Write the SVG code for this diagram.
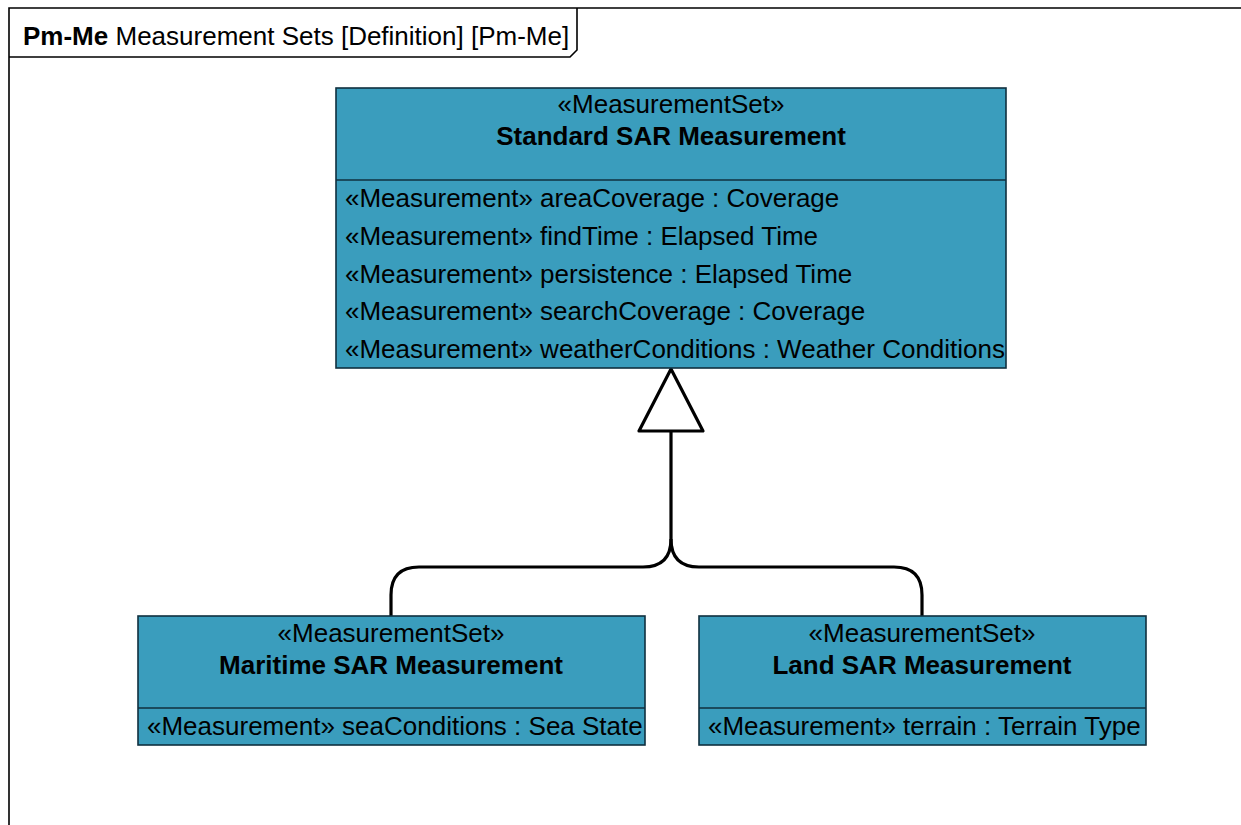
<svg xmlns="http://www.w3.org/2000/svg" width="1241" height="825" viewBox="0 0 1241 825">
  <style>
    text { font-family: "Liberation Sans", Arial, sans-serif; fill: #000; }
    .frame { fill: none; stroke: #000; stroke-width: 1.6; }
    .box { fill: #3a9dbd; stroke: #10303f; stroke-width: 1.6; }
    .sep { stroke: #10303f; stroke-width: 1.6; }
    .st { font-size: 26px; text-anchor: middle; }
    .nm { font-size: 26px; font-weight: bold; text-anchor: middle; }
    .at { font-size: 26px; }
    .edge { fill: none; stroke: #000; stroke-width: 3.2; stroke-linejoin: round; }
    .head { fill: #fff; stroke: #000; stroke-width: 3.2; stroke-linejoin: round; }
  </style>
  <rect width="1241" height="825" fill="#fff"/>

  <!-- diagram frame with name tab -->
  <g id="frame">
    <path class="frame" d="M9,826 V8 H1242"/>
    <path class="frame" d="M9,57 H570 L577,50 V8"/>
    <text x="23" y="45" font-size="26"><tspan font-weight="bold">Pm-Me</tspan> Measurement Sets [Definition] [Pm-Me]</text>
  </g>

  <!-- generalization connectors -->
  <g id="connectors">
    <path class="edge" d="M671,431 V539 Q671,567 643,567 H419 Q391,567 391,595 V616"/>
    <path class="edge" d="M671,539 Q671,567 699,567 H894 Q922,567 922,595 V616"/>
    <path class="head" d="M671,369 L703,431 H639 Z"/>
  </g>

  <g id="standard-sar-measurement">
    <rect class="box" x="336" y="88" width="670" height="280"/>
    <line class="sep" x1="336" y1="180" x2="1006" y2="180"/>
    <text class="st" x="671" y="113">«MeasurementSet»</text>
    <text class="nm" x="671" y="145">Standard SAR Measurement</text>
    <text class="at" x="345" y="207">«Measurement» areaCoverage : Coverage</text>
    <text class="at" x="345" y="245">«Measurement» findTime : Elapsed Time</text>
    <text class="at" x="345" y="283">«Measurement» persistence : Elapsed Time</text>
    <text class="at" x="345" y="320">«Measurement» searchCoverage : Coverage</text>
    <text class="at" x="345" y="358">«Measurement» weatherConditions : Weather Conditions</text>
  </g>

  <g id="maritime-sar-measurement">
    <rect class="box" x="138" y="616" width="507" height="129"/>
    <line class="sep" x1="138" y1="708" x2="645" y2="708"/>
    <text class="st" x="391" y="642">«MeasurementSet»</text>
    <text class="nm" x="391" y="674">Maritime SAR Measurement</text>
    <text class="at" x="147" y="735">«Measurement» seaConditions : Sea State</text>
  </g>

  <g id="land-sar-measurement">
    <rect class="box" x="699" y="616" width="447" height="129"/>
    <line class="sep" x1="699" y1="708" x2="1146" y2="708"/>
    <text class="st" x="922" y="642">«MeasurementSet»</text>
    <text class="nm" x="922" y="674">Land SAR Measurement</text>
    <text class="at" x="708" y="735">«Measurement» terrain : Terrain Type</text>
  </g>
</svg>
